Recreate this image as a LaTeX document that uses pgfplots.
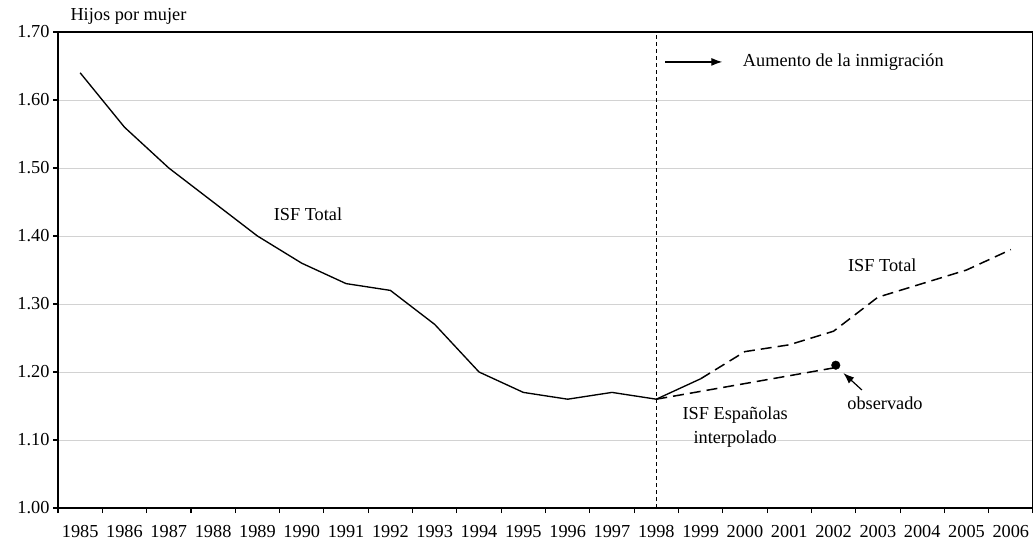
\documentclass[border=0pt]{standalone}
\usepackage{fontspec}
\setmainfont{Liberation Serif}
\usepackage{pgfplots}
\pgfplotsset{compat=1.18}
\usetikzlibrary{arrows.meta}
\newcommand{\chf}{\fontsize{18.3bp}{21bp}\selectfont}
\begin{document}
\begin{tikzpicture}
\begin{axis}[
  scale only axis,
  width=975bp, height=476bp,
  at={(0,0)}, anchor=south west,
  xmin=-0.5, xmax=21.5,
  ymin=1.0, ymax=1.7,
  xtick={0,...,21},
  xticklabels={1985,1986,1987,1988,1989,1990,1991,1992,1993,1994,1995,1996,1997,1998,1999,2000,2001,2002,2003,2004,2005,2006},
  major x tick style={draw=none},
  minor xtick={-0.5,0.5,...,21.5},
  minor tick length=5bp,
  ytick={1.0,1.1,...,1.71},
  major tick length=5bp,
  tick align=outside,
  ytick pos=left, xtick pos=bottom,
  yticklabel style={/pgf/number format/fixed, /pgf/number format/fixed zerofill, /pgf/number format/precision=2},
  /pgf/number format/assume math mode=true,
  ticklabel style={font=\chf},
  xticklabel style={yshift=-9bp},
  ymajorgrids,
  grid style={gray!35, line width=0.9bp},
  axis line style={black, line width=1.1bp},
  tick style={black, line width=1.1bp},
  clip=false,
]
\addplot[black, line width=1.35bp] coordinates {
(0,1.64)(1,1.56)(2,1.50)(3,1.45)(4,1.40)(5,1.36)(6,1.33)(7,1.32)(8,1.27)(9,1.20)(10,1.17)(11,1.16)(12,1.17)(13,1.16)(14,1.19)};
\addplot[black, line width=1.5bp, dash pattern=on 11bp off 6bp] coordinates {
(14,1.19)(15,1.23)(16,1.24)(17,1.26)(18,1.31)(19,1.33)(20,1.35)(21,1.38)};
\addplot[black, line width=1.5bp, dash pattern=on 11bp off 6bp] coordinates {
(13,1.16)(17,1.206)};
\addplot[only marks, mark=*, mark size=4.3bp, black] coordinates {(17.05,1.21)};
\addplot[black, line width=1bp, dash pattern=on 4bp off 3bp] coordinates {(13,1.0)(13,1.7)};
\draw[-{Latex[length=11bp,width=8bp]}, line width=1.2bp] (axis cs:13.2,1.656) -- (axis cs:14.49,1.656);
\draw[-{Latex[length=11bp,width=8bp]}, line width=1.2bp] (axis cs:17.64,1.1735) -- (axis cs:17.22,1.1985);
\node[font=\chf] at (axis cs:17.22,1.656) {Aumento de la inmigración};
\node[font=\chf] at (axis cs:5.14,1.432) {ISF Total};
\node[font=\chf] at (axis cs:18.1,1.357) {ISF Total};
\node[font=\chf] at (axis cs:14.78,1.137) {ISF Españolas};
\node[font=\chf] at (axis cs:14.78,1.102) {interpolado};
\node[font=\chf] at (axis cs:18.16,1.154) {observado};
\end{axis}
\node[font=\chf, anchor=west] at (9bp,492bp) {Hijos por mujer};
\pgfresetboundingbox
\path[use as bounding box] (-58bp,-40bp) rectangle (975bp,508bp);
\end{tikzpicture}
\end{document}
